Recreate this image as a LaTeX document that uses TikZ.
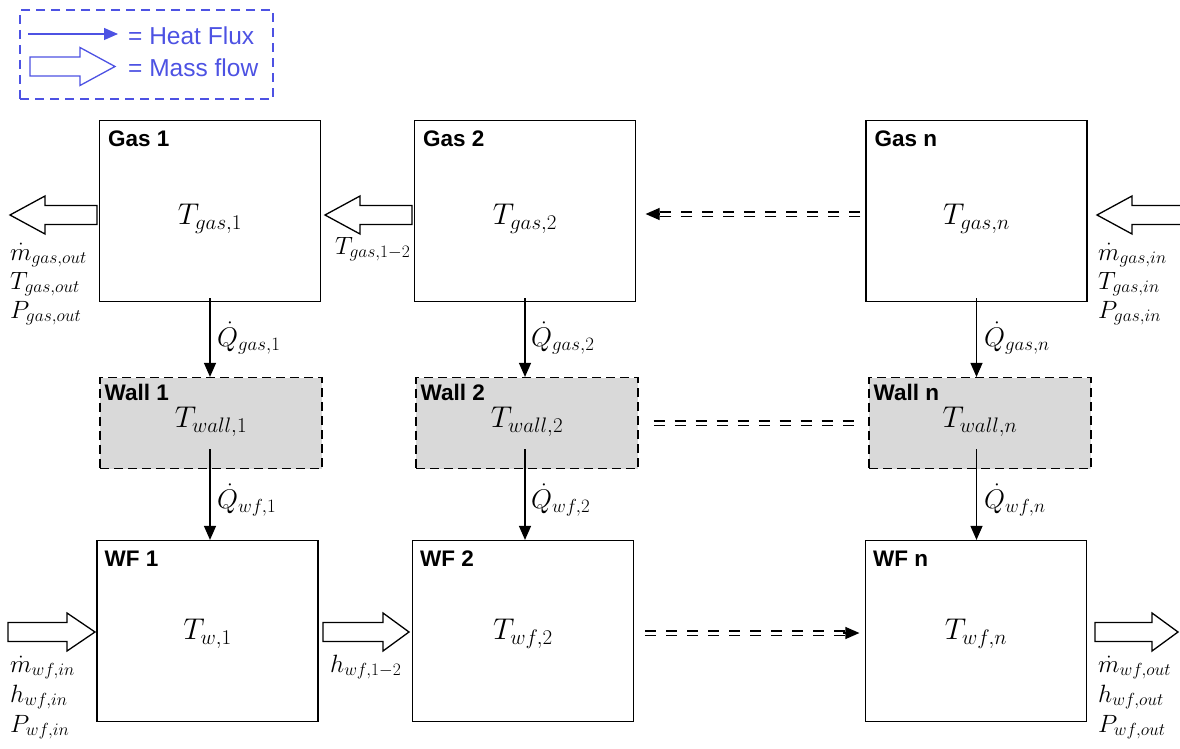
\RequirePackage{fix-cm}
\documentclass[tikz,border=0pt]{standalone}
\usepackage{fontspec}
\setsansfont{Liberation Sans}
\usetikzlibrary{arrows.meta,calc}
\definecolor{legblue}{RGB}{77,82,227}
\definecolor{wallgray}{RGB}{217,217,217}
\begin{document}
\begin{tikzpicture}[x=1pt,y=-1pt,
 box/.style={draw, line width=1.2pt, minimum width=221pt, minimum height=181pt, inner sep=0},
 wallbox/.style={draw, dash pattern=on 9pt off 5pt, fill=wallgray, line width=1.2pt, minimum width=222pt, minimum height=91pt, inner sep=0},
 title/.style={anchor=north west, inner sep=0, font=\sffamily\bfseries\fontsize{22.5}{25}\selectfont},
 val/.style={inner sep=0, font=\fontsize{30}{32}\selectfont},
 lab/.style={inner sep=0, anchor=west, text height=15pt, text depth=7pt, font=\fontsize{25}{28}\selectfont},
 qlab/.style={inner sep=0, anchor=west, font=\fontsize{27}{29}\selectfont},
 heat/.style={line width=1.2pt, -{Triangle[length=14pt,width=12pt]}},
 dbl/.style={double, double distance=3pt, line width=1.4pt, dash pattern=on 11pt off 10pt},
 flowline/.style={line width=1.3pt, line join=miter, fill=white},
 pics/flow/.style 2 args={code={\draw[flowline] (0,0) -- (-#2,19) -- (-#2,9.5) -- (-#1,9.5) -- (-#1,-9.5) -- (-#2,-9.5) -- (-#2,-19) -- cycle;}},
]
\useasboundingbox (0,0) rectangle (1180,749);

% legend
\node[draw=legblue, dash pattern=on 9pt off 6pt, line width=1.2pt, minimum width=253pt, minimum height=89pt, inner sep=0] (leg) at (146.5,54.5) {};
\coordinate (h0) at (28,34);
\coordinate (h1) at (118,34);
\draw[heat, legblue] (h0) -- (h1);
\pic[color=legblue] at (115,66.5) {flow={85}{35}};
\node[anchor=west, inner sep=0, text=legblue, font=\sffamily\fontsize{24.5}{27}\selectfont] (lt1) at (128,36) {= Heat Flux};
\node[anchor=west, inner sep=0, text=legblue, font=\sffamily\fontsize{24.5}{27}\selectfont] (lt2) at (128,68) {= Mass flow};

% boxes
\node[box] (g1) at (210,211) {};
\node[box] (g2) at (525,211) {};
\node[box] (gn) at (976.5,211) {};
\node[wallbox] (w1) at (211,423) {};
\node[wallbox] (w2) at (527,423) {};
\node[wallbox] (wn) at (980,423) {};
\node[box] (f1) at (207.5,631) {};
\node[box] (f2) at (523,631) {};
\node[box] (fn) at (976,631) {};

% titles
\node[title] (g1t) at ($(g1.north west)+(9,11)$) {Gas 1};
\node[title] (g2t) at ($(g2.north west)+(9,11)$) {Gas 2};
\node[title] (gnt) at ($(gn.north west)+(9,11)$) {Gas n};
\node[title] (w1t) at ($(w1.north west)+(5,7)$) {Wall 1};
\node[title] (w2t) at ($(w2.north west)+(5,7)$) {Wall 2};
\node[title] (wnt) at ($(wn.north west)+(5,7)$) {Wall n};
\node[title] (f1t) at ($(f1.north west)+(8,11)$) {WF 1};
\node[title] (f2t) at ($(f2.north west)+(8,11)$) {WF 2};
\node[title] (fnt) at ($(fn.north west)+(8,11)$) {WF n};

% values
\node[val] (tg1) at ($(g1.center)+(0,8)$) {$T_{gas,1}$};
\node[val] (tg2) at ($(g2.center)+(0,8)$) {$T_{gas,2}$};
\node[val] (tgn) at ($(gn.center)+(0,8)$) {$T_{gas,n}$};
\node[val] (tw1) at ($(w1.center)+(0,-1)$) {$T_{wall,1}$};
\node[val] (tw2) at ($(w2.center)+(0,-1)$) {$T_{wall,2}$};
\node[val] (twn) at ($(wn.center)+(0,-1)$) {$T_{wall,n}$};
\node[val] (tf1) at ($(f1.center)+(0,3)$) {$T_{w,1}$};
\node[val] (tf2) at ($(f2.center)+(0,3)$) {$T_{wf,2}$};
\node[val] (tfn) at ($(fn.center)+(0,3)$) {$T_{wf,n}$};

% heat flux arrows
\draw[heat] ($(g1.south)+(0,-4)$) -- (g1.south |- w1.north);
\draw[heat] ($(g2.south)+(0,-4)$) -- (g2.south |- w2.north);
\draw[heat] ($(gn.south)+(0,-4)$) -- (gn.south |- wn.north);
\draw[heat] ($(g1.center |- w1.south)+(0,-20)$) -- (g1.center |- f1.north);
\draw[heat] ($(g2.center |- w2.south)+(0,-20)$) -- (g2.center |- f2.north);
\draw[heat] ($(gn.center |- wn.south)+(0,-20)$) -- (gn.center |- fn.north);

\node[qlab] (qg1) at (217,338) {$\dot{Q}_{gas,1}$};
\node[qlab] (qg2) at (531,338) {$\dot{Q}_{gas,2}$};
\node[qlab] (qgn) at (984,338) {$\dot{Q}_{gas,n}$};
\node[qlab] (qf1) at (217,500) {$\dot{Q}_{wf,1}$};
\node[qlab] (qf2) at (531,500) {$\dot{Q}_{wf,2}$};
\node[qlab] (qfn) at (984,500) {$\dot{Q}_{wf,n}$};

% dashed double connectors
\draw[dbl] ($(gn.west)+(-5,3)$) -- ($(g2.east)+(22,3)$);
\draw[heat] ($(g2.east)+(24,3)$) -- ($(g2.east)+(9.5,3)$);
\draw[dbl] ($(w2.east)+(15,0)$) -- ($(wn.west)+(-11,0)$);
\draw[dbl] ($(f2.east)+(11,2)$) -- ($(fn.west)+(-20,2)$);
\draw[heat] ($(fn.west)+(-22,2)$) -- ($(fn.west)+(-5.5,2)$);

% mass flow arrows
\pic[xscale=-1] at (10,215) {flow={87}{35}};
\pic[xscale=-1] at (325,215) {flow={87}{35}};
\pic[xscale=-1] at (1097,215) {flow={85}{35}};
\pic at (95,632) {flow={87}{28}};
\pic at (409,632) {flow={86}{26}};
\pic at (1178,632) {flow={83}{26}};

% side labels
\node[lab] (lgo1) at (10,256) {$\dot{m}_{gas,out}$};
\node[lab] (lgo2) at (10,285) {$T_{gas,out}$};
\node[lab] (lgo3) at (10,314) {$P_{gas,out}$};
\node[lab] (lgi1) at (1098,256) {$\dot{m}_{gas,in}$};
\node[lab] (lgi2) at (1098,285) {$T_{gas,in}$};
\node[lab] (lgi3) at (1098,314) {$P_{gas,in}$};
\node[lab] (lg12) at (335,250) {$T_{gas,1-2}$};
\node[lab] (lwi1) at (10,668) {$\dot{m}_{wf,in}$};
\node[lab] (lwi2) at (10,698) {$h_{wf,in}$};
\node[lab] (lwi3) at (10,728) {$P_{wf,in}$};
\node[lab] (lw12) at (330,668) {$h_{wf,1-2}$};
\node[lab] (lwo1) at (1098,668) {$\dot{m}_{wf,out}$};
\node[lab] (lwo2) at (1098,698) {$h_{wf,out}$};
\node[lab] (lwo3) at (1098,728) {$P_{wf,out}$};
\end{tikzpicture}
\end{document}
